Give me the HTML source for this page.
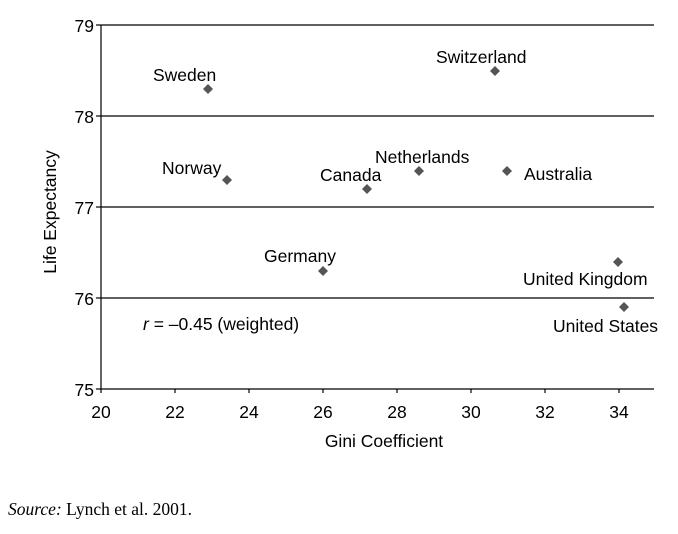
<!DOCTYPE html>
<html><head><style>body{margin:0;background:#fff}</style></head><body>
<svg width="678" height="529" xmlns="http://www.w3.org/2000/svg" font-family="Liberation Sans, sans-serif" font-size="17.5" fill="#000">
<g stroke="#000" stroke-width="1.2">
<line x1="101" y1="25" x2="654" y2="25"/>
<line x1="101" y1="116" x2="654" y2="116"/>
<line x1="101" y1="207" x2="654" y2="207"/>
<line x1="101" y1="298" x2="654" y2="298"/>
<line x1="101" y1="389" x2="654" y2="389"/>
<line x1="101" y1="25" x2="101" y2="393"/>
<line x1="96" y1="25" x2="101" y2="25"/><line x1="96" y1="116" x2="101" y2="116"/><line x1="96" y1="207" x2="101" y2="207"/><line x1="96" y1="298" x2="101" y2="298"/><line x1="96" y1="389" x2="101" y2="389"/>
<line x1="175" y1="389" x2="175" y2="393"/><line x1="249" y1="389" x2="249" y2="393"/><line x1="323" y1="389" x2="323" y2="393"/><line x1="397" y1="389" x2="397" y2="393"/><line x1="471" y1="389" x2="471" y2="393"/><line x1="545" y1="389" x2="545" y2="393"/><line x1="619" y1="389" x2="619" y2="393"/>
</g>
<g text-anchor="end"><text x="94" y="32">79</text><text x="94" y="123">78</text><text x="94" y="214">77</text><text x="94" y="305">76</text><text x="94" y="396">75</text></g>
<g text-anchor="middle"><text x="101" y="418">20</text><text x="175" y="418">22</text><text x="249" y="418">24</text><text x="323" y="418">26</text><text x="397" y="418">28</text><text x="471" y="418">30</text><text x="545" y="418">32</text><text x="619" y="418">34</text>
<text x="384" y="447">Gini Coefficient</text></g>
<text transform="translate(56,212) rotate(-90)" text-anchor="middle">Life Expectancy</text>
<g fill="#555">
<path d="M208 84l5 5-5 5-5-5z"/><path d="M227 175l5 5-5 5-5-5z"/><path d="M323 266l5 5-5 5-5-5z"/><path d="M367 184l5 5-5 5-5-5z"/><path d="M419 166l5 5-5 5-5-5z"/><path d="M495 66l5 5-5 5-5-5z"/><path d="M507 166l5 5-5 5-5-5z"/><path d="M618 257l5 5-5 5-5-5z"/><path d="M624 302l5 5-5 5-5-5z"/>
</g>
<text x="153" y="81">Sweden</text>
<text x="162" y="174">Norway</text>
<text x="264" y="262">Germany</text>
<text x="320" y="181">Canada</text>
<text x="375" y="163">Netherlands</text>
<text x="436" y="63">Switzerland</text>
<text x="524" y="180">Australia</text>
<text x="523" y="285">United Kingdom</text>
<text x="553" y="332">United States</text>
<text x="143" y="330"><tspan font-style="italic">r</tspan> = –0.45 (weighted)</text>
<text x="8" y="515" font-family="Liberation Serif, serif" font-size="17.5"><tspan font-style="italic">Source:</tspan> Lynch et al. 2001.</text>
</svg>
</body></html>
